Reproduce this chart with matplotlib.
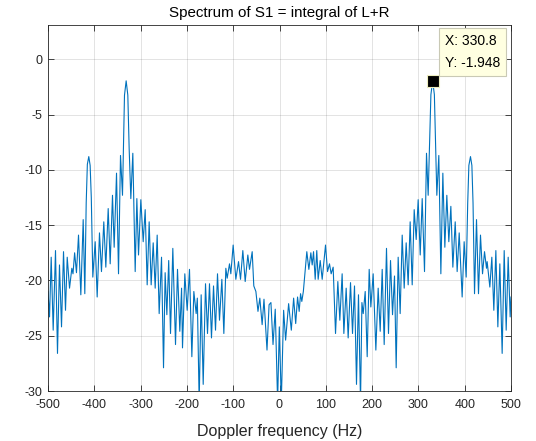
import matplotlib
matplotlib.use("Agg")
import matplotlib.pyplot as plt

# Spectrum: (Doppler frequency Hz, level dB) at local extrema
freq_hz = [
    -500.0, -496.7, -493.1, -488.8, -483.8, -479.5, -475.2, -470.8, -466.5, -462.2,
    -458.5, -453.5, -448.5, -446.0, -442.5, -438.5, -434.1, -429.1, -424.0, -420.5,
    -417.5, -415.0, -411.9, -409.0, -406.5, -403.2, -398.1, -393.8, -388.8, -384.5,
    -379.5, -375.1, -370.0, -365.7, -360.7, -357.1, -352.0, -347.7, -343.4, -339.1,
    -336.9, -334.8, -331.2, -327.6, -324.7, -321.1, -316.8, -311.7, -308.1, -304.5,
    -299.5, -294.4, -290.1, -285.8, -281.5, -277.2, -272.8, -268.5, -264.2, -259.9,
    -254.8, -250.5, -247.0, -243.3, -239.3, -235.4, -230.4, -224.6, -220.3, -215.3,
    -211.5, -209.5, -204.5, -199.4, -194.4, -189.3, -185.0, -180.0, -177.5, -173.5,
    -169.2, -164.8, -159.8, -155.5, -151.2, -146.9, -142.5, -138.2, -133.9, -129.6,
    -124.5, -120.2, -115.9, -113.0, -108.0, -105.1, -100.1, -94.3, -88.5, -84.2,
    -79.2, -74.1, -68.4, -64.8, -59.0, -55.5, -51.0, -46.5, -42.5, -37.5,
    -33.5, -27.0, -22.5, -18.5, -14.0, -9.2, -4.1, -0.4, 3.9, 8.9,
    13.2, 19.7, 25.5, 30.5, 35.0, 39.0, 42.5, 45.5, 48.2, 51.5,
    59.0, 63.4, 67.7, 70.6, 73.5, 77.1, 80.5, 83.5, 87.9, 92.2,
    99.4, 103.7, 108.0, 111.6, 115.9, 121.0, 126.0, 130.3, 135.3, 139.0,
    144.0, 148.3, 153.4, 157.7, 162.0, 166.3, 170.6, 175.0, 178.0, 180.8,
    185.1, 189.4, 193.7, 197.3, 202.3, 208.1, 213.1, 217.5, 221.8, 226.1,
    231.1, 235.4, 239.8, 244.1, 248.4, 252.0, 256.3, 260.6, 265.0, 269.3,
    273.6, 277.9, 282.2, 286.6, 290.9, 295.2, 299.5, 303.9, 308.2, 313.2,
    317.5, 321.1, 324.0, 327.0, 330.8, 334.5, 337.0, 339.8, 344.1, 348.5,
    352.8, 357.1, 361.4, 365.7, 370.1, 374.4, 379.5, 383.7, 388.1, 394.5,
    398.8, 403.2, 406.5, 409.0, 412.5, 415.5, 418.0, 421.2, 425.5, 429.8,
    434.1, 438.5, 442.8, 447.1, 448.5, 454.3, 458.6, 462.9, 467.3, 471.6,
    475.9, 480.9, 485.3, 489.6, 493.9, 498.2, 500.0,
]
level_db = [
    -21.0, -23.3, -17.9, -24.5, -17.3, -26.6, -18.6, -24.2, -17.4, -22.7,
    -17.9, -20.7, -18.9, -19.4, -17.5, -19.3, -15.9, -21.3, -14.5, -21.2,
    -13.0, -9.5, -8.8, -9.6, -12.5, -19.7, -16.5, -21.5, -15.7, -19.2,
    -14.7, -18.8, -13.5, -18.5, -12.3, -17.0, -10.3, -19.4, -8.7, -12.3,
    -7.5, -3.25, -1.95, -3.25, -8.1, -12.6, -8.5, -19.2, -12.6, -17.7,
    -12.7, -16.5, -13.6, -20.4, -14.7, -20.4, -16.6, -20.7, -15.9, -23.0,
    -17.9, -27.9, -19.3, -23.1, -18.2, -24.8, -17.1, -25.8, -19.0, -24.6,
    -20.7, -26.1, -19.4, -22.7, -19.0, -26.9, -21.0, -23.0, -21.6, -31.0,
    -21.3, -29.4, -20.3, -24.8, -20.3, -25.2, -20.5, -24.5, -19.4, -23.6,
    -19.9, -24.8, -18.9, -19.8, -18.5, -19.4, -16.8, -19.9, -18.3, -19.9,
    -17.3, -20.1, -17.7, -19.0, -17.4, -20.5, -21.0, -22.8, -21.6, -24.0,
    -21.7, -26.3, -22.2, -22.0, -25.8, -22.6, -31.0, -24.2, -31.0, -22.7,
    -25.4, -22.1, -24.5, -21.6, -23.9, -21.5, -22.8, -21.2, -21.9, -21.0,
    -17.4, -19.0, -17.5, -18.6, -17.4, -19.9, -17.3, -19.9, -18.2, -19.9,
    -16.8, -19.2, -18.5, -19.4, -18.8, -24.8, -20.1, -23.6, -19.4, -24.8,
    -20.7, -25.2, -20.2, -24.8, -20.5, -29.4, -21.3, -31.0, -22.0, -23.0,
    -21.0, -26.9, -19.0, -22.4, -19.4, -26.3, -20.7, -24.6, -19.0, -25.8,
    -17.1, -24.8, -18.2, -23.1, -19.6, -27.9, -17.9, -23.0, -15.9, -20.7,
    -16.6, -20.4, -14.7, -20.4, -13.6, -16.3, -12.7, -17.7, -12.6, -19.2,
    -8.5, -12.3, -8.0, -3.2, -1.948, -3.2, -7.5, -12.3, -8.7, -19.4,
    -10.3, -17.0, -12.3, -16.5, -13.3, -18.8, -14.7, -19.2, -15.7, -21.5,
    -16.5, -19.7, -13.0, -9.6, -8.8, -9.6, -13.0, -21.2, -14.5, -21.2,
    -15.9, -19.4, -17.4, -18.9, -18.3, -20.6, -17.9, -22.7, -17.3, -24.2,
    -18.5, -26.6, -17.3, -24.5, -17.9, -23.3, -21.5,
]
x_ticks = [-500, -400, -300, -200, -100, 0, 100, 200, 300, 400, 500]
y_ticks = [-30, -25, -20, -15, -10, -5, 0]
tip_x = 330.8
tip_y = -1.948

plt.rcParams['font.family'] = ['Liberation Sans', 'DejaVu Sans']
plt.rcParams['axes.unicode_minus'] = False
axc = '#262626'

fig = plt.figure(figsize=(5.36, 4.41), dpi=100)
ax = fig.add_axes([48/536, 50/441, 463/536, 366/441])
ax.plot(freq_hz, level_db, color='#0072BD', linewidth=0.8)
ax.plot([tip_x], [tip_y], marker='s', markersize=8, color='black',
        markeredgecolor='#eeeec0', markeredgewidth=0.8, zorder=5)
ax.text(357, 2.3, f"X: {tip_x}\nY: {tip_y}", fontsize=10, va='top', ha='left',
        color='black', linespacing=1.75, zorder=6,
        bbox=dict(boxstyle='square,pad=0.4', fc='#ffffe1', ec='#c9c9b5', lw=0.8))

ax.set_xlim(-500, 500)
ax.set_ylim(-30, 3.1)
ax.set_xticks(x_ticks)
ax.set_yticks(y_ticks)
ax.grid(True, color='#262626', alpha=0.15, linewidth=0.6)
ax.set_axisbelow(True)
ax.tick_params(direction='in', length=4, width=0.6, colors=axc, labelsize=9,
               top=True, right=True)
ax.tick_params(axis='x', pad=6)
ax.tick_params(axis='y', pad=4)
for s in ax.spines.values():
    s.set_color(axc)
    s.set_linewidth(0.6)
ax.set_title('Spectrum of S1 = integral of L+R', fontsize=10.9, color='black', pad=6)
ax.set_xlabel('Doppler frequency (Hz)', fontsize=11.5, color=axc, labelpad=9)
fig.savefig('out.png', dpi=100, facecolor='white')
